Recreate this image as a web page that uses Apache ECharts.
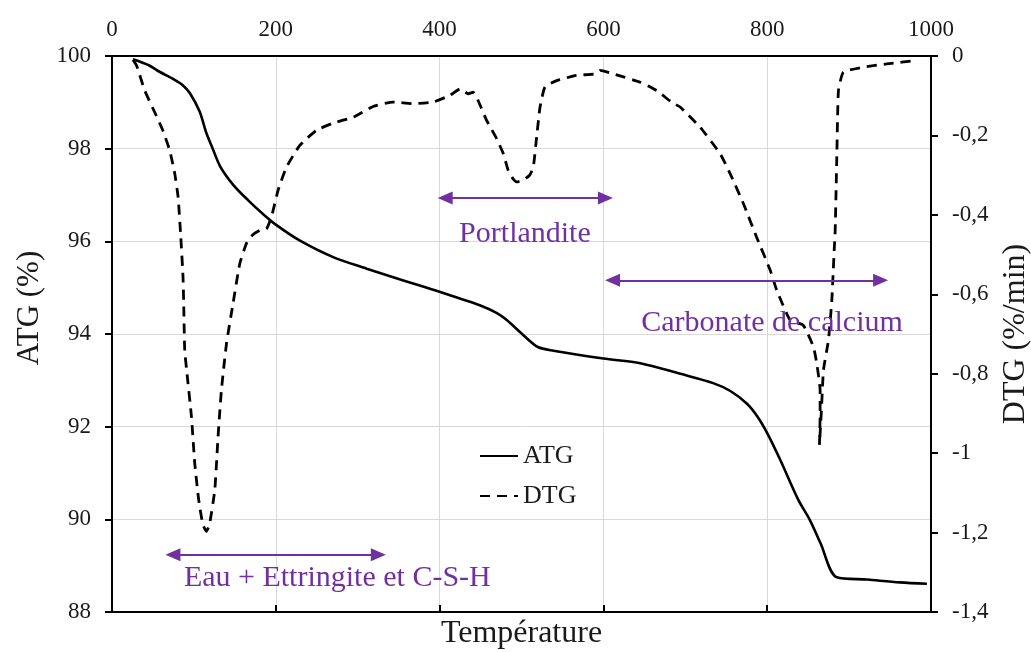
<!DOCTYPE html>
<html><head><meta charset="utf-8">
<script src="https://cdn.jsdelivr.net/npm/echarts@6/dist/echarts.min.js"></script>
<style>html,body{margin:0;padding:0;background:#fff}#c{width:1031px;height:652px}</style>
</head><body><div id="c"></div>
<script>
// ATG (%) – left axis
const atgT = [25.6, 45, 58, 75, 87, 95, 107, 115, 123, 132, 148, 166, 185, 200, 229, 270, 311, 351, 400, 449, 470, 482, 502, 520, 539, 600, 645, 694, 734, 755, 775, 788, 800, 816, 838, 852, 865, 885, 922, 962, 995];
const atgV = [99.93, 99.8, 99.66, 99.5, 99.36, 99.2, 98.8, 98.35, 98.0, 97.62, 97.22, 96.89, 96.58, 96.36, 96.02, 95.66, 95.41, 95.18, 94.91, 94.62, 94.45, 94.3, 93.98, 93.72, 93.64, 93.47, 93.37, 93.14, 92.94, 92.77, 92.5, 92.22, 91.86, 91.28, 90.42, 89.99, 89.49, 88.75, 88.70, 88.64, 88.61];
// DTG (%/min) – right axis
const dtgT = [25.6, 30, 40, 52, 62, 70.5, 76.6, 80.7, 84, 86.7, 87.5, 88.8, 91.6, 97, 101, 106, 111, 115.3, 119, 125.5, 129.5, 133.6, 139.8, 147.8, 156, 164.2, 172, 180.5, 188.6, 194.7, 202.8, 213, 229.3, 249.7, 270, 294.5, 318.9, 343, 368, 392, 412.6, 424.8, 435, 441, 447, 457.4, 469.6, 477.8, 483.8, 490, 494, 502, 510, 514.4, 518.5, 522.6, 528.7, 543, 567, 590, 596, 612, 645, 665, 683, 694, 718, 742.5, 754.7, 771, 787, 803.6, 811.7, 828, 844, 856.4, 860.5, 864.6, 864.6, 863.8, 866, 868.7, 874.8, 878.9, 881.8, 883, 885, 887, 893, 917.5, 946, 983];
const dtgV = [-0.01, -0.024, -0.087, -0.141, -0.187, -0.238, -0.296, -0.355, -0.456, -0.556, -0.62, -0.741, -0.8, -0.908, -1.025, -1.12, -1.18, -1.197, -1.18, -1.093, -0.958, -0.841, -0.724, -0.623, -0.523, -0.472, -0.45, -0.439, -0.435, -0.405, -0.338, -0.28, -0.225, -0.187, -0.169, -0.154, -0.127, -0.116, -0.12, -0.116, -0.099, -0.083, -0.095, -0.091, -0.112, -0.162, -0.208, -0.246, -0.288, -0.31, -0.317, -0.313, -0.3, -0.28, -0.204, -0.129, -0.078, -0.062, -0.049, -0.045, -0.036, -0.045, -0.066, -0.087, -0.116, -0.129, -0.179, -0.246, -0.296, -0.372, -0.456, -0.539, -0.59, -0.665, -0.678, -0.732, -0.774, -0.841, -0.908, -0.979, -0.9, -0.791, -0.715, -0.615, -0.489, -0.439, -0.254, -0.087, -0.041, -0.028, -0.02, -0.011];

// Annotations (x in °C, y in ATG %)
const annTexts = ['Eau + Ettringite et C-S-H', 'Portlandite', 'Carbonate de calcium'];
const annTextX = [275.1, 504.2, 805.9];
const annTextY = [88.73, 96.15, 94.235];
const arrowFrom = [74.4, 406.8, 611.2];
const arrowTo = [325.2, 602.5, 938.5];
const arrowY = [89.235, 96.935, 95.16];

const FONT = 'Liberation Serif';
const PURPLE = '#7030A0';
const TXT = '#1a1a1a';

const chart = echarts.init(document.getElementById('c'), null, {renderer: 'canvas'});
chart.setOption({
  animation: false,
  backgroundColor: '#fff',
  textStyle: {fontFamily: FONT},
  grid: {left: 112, right: 100, top: 56, bottom: 40, containLabel: false, outerBoundsMode: 'none'},
  legend: {
    orient: 'vertical', left: 474, top: 438, itemWidth: 38, itemHeight: 14, itemGap: 14,
    itemStyle: {opacity: 0},
    textStyle: {fontFamily: FONT, fontSize: 26, color: TXT},
    data: ['ATG', 'DTG']
  },
  xAxis: [
    {type: 'value', position: 'top', min: 0, max: 1000, interval: 200,
     axisLine: {show: true, lineStyle: {color: '#000', width: 2}},
     axisTick: {show: false},
     axisLabel: {fontFamily: FONT, fontSize: 23, color: TXT, margin: 15, formatter: v => String(v)},
     splitLine: {show: true, lineStyle: {color: '#d9d9d9', width: 1}}},
    {type: 'value', position: 'bottom', min: 0, max: 1000, interval: 200,
     axisLine: {show: true, onZero: false, lineStyle: {color: '#000', width: 2}},
     axisTick: {show: true, inside: true, length: 7, lineStyle: {color: '#000', width: 2}},
     axisLabel: {show: false},
     splitLine: {show: false},
     name: 'Température', nameLocation: 'middle', nameGap: 6,
     nameTextStyle: {fontFamily: FONT, fontSize: 32, color: TXT}}
  ],
  yAxis: [
    {type: 'value', position: 'left', min: 88, max: 100, interval: 2,
     axisLine: {show: true, onZero: false, lineStyle: {color: '#000', width: 2}},
     axisTick: {show: true, length: 7, lineStyle: {color: '#000', width: 2}},
     axisLabel: {fontFamily: FONT, fontSize: 23, color: TXT, margin: 21},
     splitLine: {show: true, lineStyle: {color: '#d9d9d9', width: 1}},
     name: 'ATG (%)', nameLocation: 'middle', nameGap: 66,
     nameTextStyle: {fontFamily: FONT, fontSize: 31, color: TXT, padding: [0, 0, 0, 52]}},
    {type: 'value', position: 'right', min: -1.4, max: 0, interval: 0.2,
     axisLine: {show: true, onZero: false, lineStyle: {color: '#000', width: 2}},
     axisTick: {show: true, length: 7, lineStyle: {color: '#000', width: 2}},
     axisLabel: {fontFamily: FONT, fontSize: 23, color: TXT, margin: 21,
       formatter: v => String(Math.round(v * 10) / 10).replace('.', ',')},
     splitLine: {show: false},
     name: 'DTG (%/min)', nameLocation: 'middle', nameGap: 62, nameRotate: 90,
     nameTextStyle: {fontFamily: FONT, fontSize: 32, color: TXT}}
  ],
  series: [
    {name: 'ATG', type: 'line', xAxisIndex: 0, yAxisIndex: 0, symbol: 'none', smooth: 0.3,
     lineStyle: {color: '#000', width: 2.6}, itemStyle: {color: '#000'},
     data: atgT.map((t, i) => [t, atgV[i]]),
     markLine: {
       silent: true, symbol: ['triangle', 'triangle'], symbolSize: [13, 15],
       label: {show: false}, emphasis: {disabled: true},
       lineStyle: {color: PURPLE, width: 2, type: 'solid'}, itemStyle: {color: PURPLE},
       data: arrowFrom.map((f, i) => [{coord: [f, arrowY[i]]}, {coord: [arrowTo[i], arrowY[i]]}])
     },
     markPoint: {
       silent: true, symbol: 'circle', symbolSize: 0, itemStyle: {color: 'transparent'},
       label: {show: true, position: 'inside', formatter: p => p.name, color: PURPLE, fontFamily: FONT, fontSize: 30},
       data: annTexts.map((n, i) => ({name: n, coord: [annTextX[i], annTextY[i]]}))
     }},
    {name: 'DTG', type: 'line', xAxisIndex: 0, yAxisIndex: 1, symbol: 'none', smooth: 0.15,
     lineStyle: {color: '#000', width: 2.8, type: [10, 7]}, itemStyle: {color: '#000'},
     data: dtgT.map((t, i) => [t, dtgV[i]])}
  ]
});
</script></body></html>
